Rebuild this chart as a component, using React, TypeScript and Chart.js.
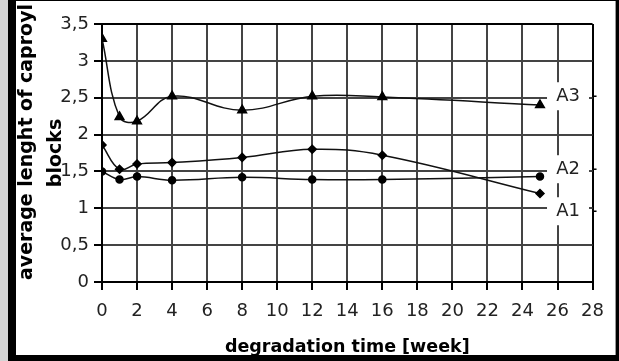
import React, { useEffect, useRef } from 'react';
import { Chart, registerables } from 'chart.js';

Chart.register(...registerables);

// ---- data ----
const weeks = [0, 1, 2, 4, 8, 12, 16, 25];
const seriesA1 = [1.86, 1.53, 1.6, 1.62, 1.69, 1.8, 1.72, 1.2];
const seriesA2 = [1.5, 1.39, 1.43, 1.38, 1.42, 1.39, 1.39, 1.43];
const seriesA3 = [3.3, 2.24, 2.18, 2.52, 2.33, 2.52, 2.51, 2.4];
const seriesNames = ['A1', 'A2', 'A3'];
const seriesLabelValues = [0.96, 1.53, 2.52];
const xTitle = 'degradation time [week]';
const yTitleLines = ['average lenght of caproyl', 'blocks'];

const FONT = '"DejaVu Sans", Verdana, sans-serif';

const toPoints = (vals: number[]) => vals.map((v, i) => ({ x: weeks[i], y: v }));

const annotatePlugin = {
  id: 'annotate',
  afterDraw(chart: any) {
    const { ctx, scales, chartArea } = chart;
    const x = scales.x;
    const y = scales.y;
    ctx.save();
    const lx = x.getPixelForValue(26.6);
    seriesNames.forEach((name, i) => {
      const py = y.getPixelForValue(seriesLabelValues[i]);
      ctx.fillStyle = '#fff';
      ctx.fillRect(lx - 21, py - 14, 42, 28);
      ctx.fillStyle = '#222';
      ctx.font = '18px ' + FONT;
      ctx.textAlign = 'center';
      ctx.textBaseline = 'middle';
      ctx.fillText(name, lx, py);
      ctx.strokeStyle = '#000';
      ctx.lineWidth = 1.5;
      ctx.beginPath();
      ctx.moveTo(chartArea.right, py);
      ctx.lineTo(chartArea.right + 4, py);
      ctx.stroke();
    });
    // y-axis title (two lines, rotated)
    ctx.fillStyle = '#000';
    ctx.font = 'bold 19px ' + FONT;
    ctx.textAlign = 'center';
    ctx.textBaseline = 'middle';
    const mid = (chartArea.top + chartArea.bottom) / 2;
    ctx.save();
    ctx.translate(11, mid - 11);
    ctx.rotate(-Math.PI / 2);
    ctx.fillText(yTitleLines[0], 0, 0);
    ctx.restore();
    ctx.save();
    ctx.translate(40, mid);
    ctx.rotate(-Math.PI / 2);
    ctx.fillText(yTitleLines[1], 0, 0);
    ctx.restore();
    ctx.restore();
  },
};

function ChartView() {
  const ref = useRef<HTMLCanvasElement | null>(null);
  useEffect(() => {
    if (!ref.current) return;
    const lineCommon = {
      borderColor: '#111',
      backgroundColor: '#000',
      borderWidth: 1.5,
      tension: 0.4,
      pointBorderColor: '#000',
      pointBackgroundColor: '#000',
      showLine: true,
    };
    const chart = new Chart(ref.current, {
      type: 'line',
      data: {
        datasets: [
          { ...lineCommon, label: seriesNames[0], data: toPoints(seriesA1), pointStyle: 'rectRot', pointRadius: 4 },
          { ...lineCommon, label: seriesNames[1], data: toPoints(seriesA2), pointStyle: 'circle', pointRadius: 3.5 },
          { ...lineCommon, label: seriesNames[2], data: toPoints(seriesA3), pointStyle: 'triangle', pointRadius: 5 },
        ],
      },
      options: {
        animation: false,
        responsive: false,
        layout: { padding: { top: 23, right: 14, left: 0, bottom: 0 } },
        plugins: { legend: { display: false }, tooltip: { enabled: false } },
        scales: {
          x: {
            type: 'linear',
            min: 0,
            max: 28,
            ticks: { stepSize: 2, color: '#222', font: { family: FONT, size: 18 }, padding: 11 },
            grid: {
              color: (c: any) => (c.tick && c.tick.value === 28 ? '#000' : '#444'),
              lineWidth: 2,
              tickColor: '#000',
              tickLength: 8,
            },
            border: { display: true, color: '#000', width: 2 },
            title: {
              display: true,
              text: xTitle,
              color: '#000',
              font: { family: FONT, size: 17.5, weight: 'bold' },
              padding: { top: 0, bottom: -3 },
            },
            afterFit: (s: any) => {
              s.height = 73;
            },
          },
          y: {
            min: 0,
            max: 3.5,
            ticks: {
              stepSize: 0.5,
              color: '#222',
              font: { family: FONT, size: 18 },
              padding: 5,
              callback: (v: any) => String(v).replace('.', ','),
            },
            grid: {
              color: (c: any) => (c.tick && c.tick.value === 3.5 ? '#000' : '#444'),
              lineWidth: 2,
              tickColor: '#000',
              tickLength: 8,
            },
            border: { display: true, color: '#000', width: 2 },
            afterFit: (s: any) => {
              s.width = 86;
            },
          },
        },
      },
      plugins: [annotatePlugin],
    } as any);
    return () => chart.destroy();
  }, []);
  return <canvas ref={ref} width={599} height={354} style={{ display: 'block', width: 599, height: 354 }} />;
}

export default function App() {
  return (
    <div style={{ position: 'fixed', left: 0, top: 0, width: 619, height: 361, background: '#d4d4d4', overflow: 'hidden' }}>
      <div style={{ position: 'absolute', left: 8, top: 0, width: 611, height: 361, background: '#000' }} />
      <div style={{ position: 'absolute', left: 16, top: 1, width: 600, height: 354, background: '#999' }} />
      <div style={{ position: 'absolute', left: 16, top: 1, width: 599, height: 354, background: '#fff', overflow: 'hidden' }}>
        <ChartView />
      </div>
    </div>
  );
}
